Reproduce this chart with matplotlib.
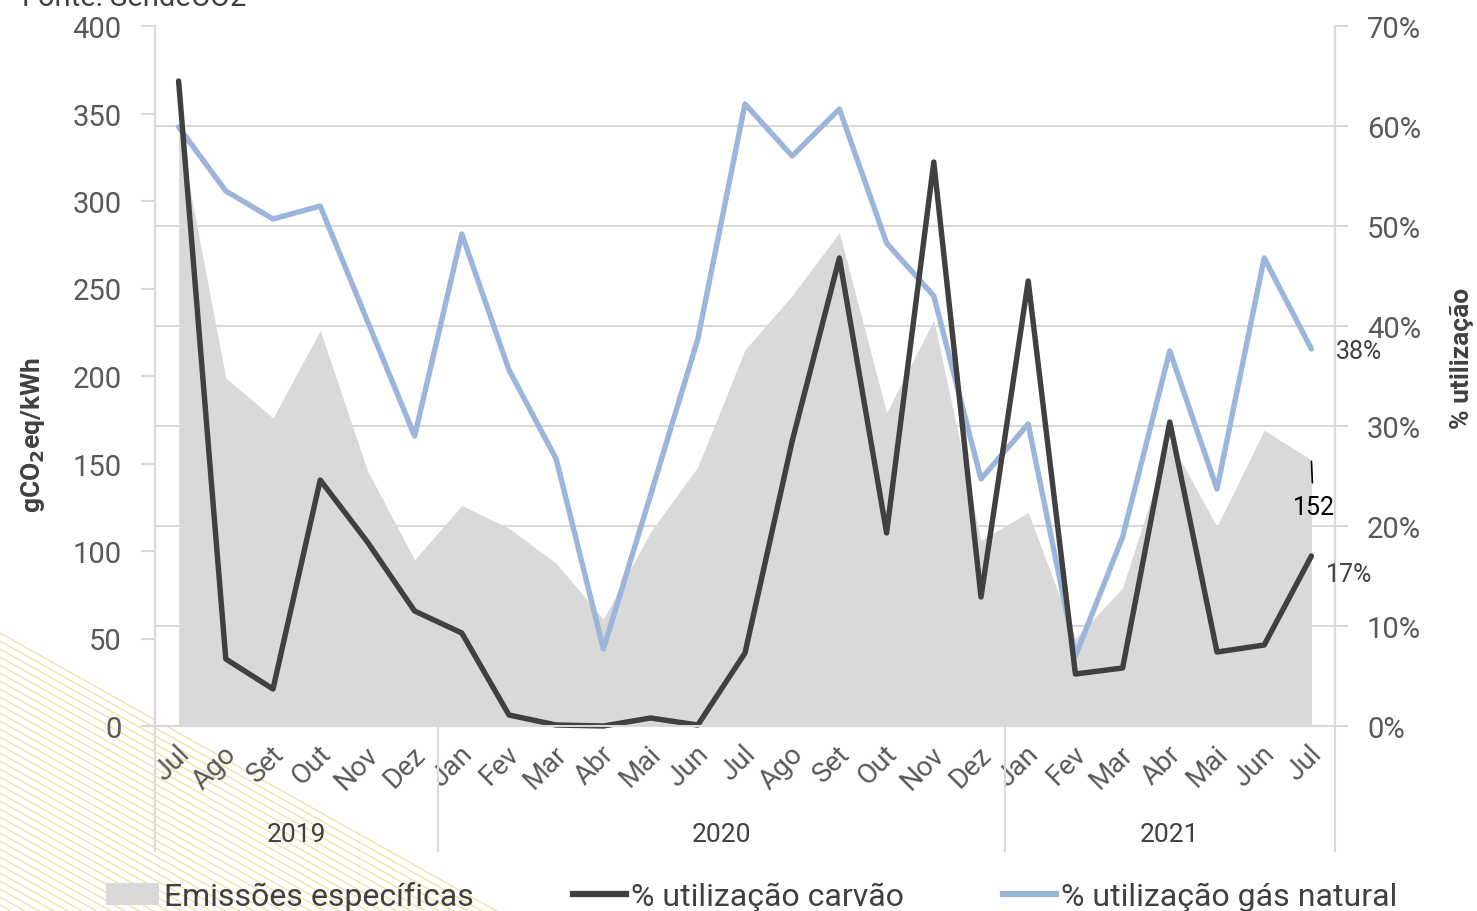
import numpy as np
import matplotlib
matplotlib.use('Agg')
import matplotlib.pyplot as plt
from matplotlib.lines import Line2D
from matplotlib.patches import Patch
from matplotlib.transforms import ScaledTranslation, blended_transform_factory

plt.rcParams['font.family'] = ['Roboto', 'DejaVu Sans']

# data (Jul 2019 .. Jul 2021)
months = ['Jul', 'Ago', 'Set', 'Out', 'Nov', 'Dez',
          'Jan', 'Fev', 'Mar', 'Abr', 'Mai', 'Jun', 'Jul', 'Ago', 'Set', 'Out', 'Nov', 'Dez',
          'Jan', 'Fev', 'Mar', 'Abr', 'Mai', 'Jun', 'Jul']
years = ['2019', '2020', '2021']
year_sizes = [6, 12, 7]
emissions = [341, 199, 176, 226, 146, 95, 126, 113, 93, 61, 111, 148, 215, 246, 282,
             179, 232, 106, 122, 50, 79, 163, 114, 169, 152]
coal = [64.5, 6.7, 3.7, 24.6, 18.4, 11.5, 9.3, 1.1, 0.1, 0.0, 0.8, 0.1, 7.3, 28.5, 46.8,
        19.3, 56.4, 12.9, 44.5, 5.2, 5.8, 30.4, 7.4, 8.1, 17.0]
gas = [59.9, 53.5, 50.7, 52.0, 40.5, 29.0, 49.2, 35.6, 26.7, 7.7, 23.1, 38.7, 62.2, 57.0, 61.7,
       48.3, 43.0, 24.7, 30.2, 7.0, 18.9, 37.5, 23.7, 46.8, 37.7]

GRID = '#d9d9d9'
TICK = '#595959'
TXT = '#404040'
AREA = '#d9d9d9'
COAL = '#404040'
GAS = '#9bb6da'

fig = plt.figure(figsize=(14.77, 9.12), dpi=100)

# decorative yellow stripes, bottom-left corner
for y0 in np.arange(634, 912, 8):
    x1 = (912 - y0) / 0.56
    fig.add_artist(Line2D([0, x1 / 1477], [1 - y0 / 912, 0], transform=fig.transFigure,
                          color='#ece09a', lw=1.0, alpha=0.85, zorder=0))

ax = fig.add_axes([155 / 1477, 1 - 727 / 912, 1180 / 1477, 700 / 912])
ax.set_facecolor('white')
ax2 = ax.twinx()

x = np.arange(len(months))
ax.fill_between(x, 0, emissions, color=AREA, lw=0, zorder=2)
ax.set_ylim(0, 400)
ax.set_xlim(-0.5, len(months) - 0.5)
ax.set_yticks(np.arange(0, 401, 50))
ax.set_yticks(np.linspace(0, 400, 8), minor=True)
ax.grid(which='minor', axis='y', color=GRID, lw=1.5)
ax.set_axisbelow(True)
ax.tick_params(axis='y', which='major', length=10, width=1.5, color=GRID,
               labelsize=21, labelcolor=TICK, pad=14)
ax.tick_params(axis='y', which='minor', length=0)

ax2.plot(x, gas, color=GAS, lw=3.9, solid_joinstyle='round', solid_capstyle='round', clip_on=False)
ax2.plot(x, coal, color=COAL, lw=3.9, solid_joinstyle='round', solid_capstyle='round', clip_on=False)
ax2.set_ylim(0, 70)
ax2.set_yticks(np.arange(0, 71, 10))
ax2.set_yticklabels([f'{v}%' for v in range(0, 71, 10)])
ax2.tick_params(axis='y', length=9, width=1.5, color=GRID, labelsize=21, labelcolor=TICK, pad=14)

for a in (ax, ax2):
    a.spines['top'].set_visible(False)
    for s in ('left', 'right', 'bottom'):
        a.spines[s].set_color(GRID)
        a.spines[s].set_linewidth(1.5)

ax.set_xticks(x)
ax.set_xticklabels(months, rotation=45, ha='right', va='top', rotation_mode='anchor',
                   fontsize=20, color=TICK)
ax.tick_params(axis='x', length=0, pad=10)
off = ScaledTranslation(-3 / 100, 0, fig.dpi_scale_trans)
for lab in ax.get_xticklabels():
    lab.set_transform(lab.get_transform() + off)

# year groups and separators
tr = blended_transform_factory(ax.transData, ax.transAxes)
edges = np.concatenate([[0], np.cumsum(year_sizes)]) - 0.5
for e in edges:
    ax.add_line(Line2D([e, e], [0, -125 / 700], transform=tr, color=GRID, lw=1.5, clip_on=False))
for i, yr in enumerate(years):
    ax.text((edges[i] + edges[i + 1]) / 2, -108 / 700, yr, transform=tr, ha='center', va='center',
            fontsize=19, color=TXT)

ax.set_ylabel(r'gCO$_\mathbf{2}$eq/kWh', fontsize=19, fontweight='bold', color=TXT)
ax.yaxis.set_label_coords(-0.0915, 0.417)
ax2.set_ylabel('% utilização', fontsize=19, fontweight='bold', color=TXT)
ax2.yaxis.set_label_coords(1.0975, 0.527)

# data labels for the last month
last = len(months) - 1
ax2.annotate(f'{gas[last]:.0f}%', (x[last], gas[last]), xytext=(34, -1.5), textcoords='offset points',
             ha='center', va='center', fontsize=18, color=TXT)
ax2.annotate(f'{coal[last]:.0f}%', (x[last], coal[last]), xytext=(27, -13), textcoords='offset points',
             ha='center', va='center', fontsize=18, color=TXT)
ax.annotate(f'{emissions[last]}', (x[last], emissions[last]), xytext=(1.5, -34), textcoords='offset points',
            ha='center', va='center', fontsize=18, color='black',
            arrowprops=dict(arrowstyle='-', color='black', lw=1.2, shrinkA=7, shrinkB=1))

fig.text(22 / 1477, 1 - 6 / 912, 'Fonte: SendeCO2', fontsize=21, color=TXT, va='baseline', ha='left')

handles = [Patch(facecolor=AREA, edgecolor='none'),
           Line2D([], [], color=COAL, lw=4.5),
           Line2D([], [], color=GAS, lw=4.5)]
labels = ['Emissões específicas', '% utilização carvão', '% utilização gás natural']
fig.legend(handles, labels, loc='center', bbox_to_anchor=(0.509, 1 - 897 / 912), ncol=3,
           frameon=False, fontsize=23, labelcolor=TXT, handlelength=1.66, handletextpad=0.16,
           columnspacing=3.1, borderaxespad=0)

fig.savefig('out.png', dpi=100)
